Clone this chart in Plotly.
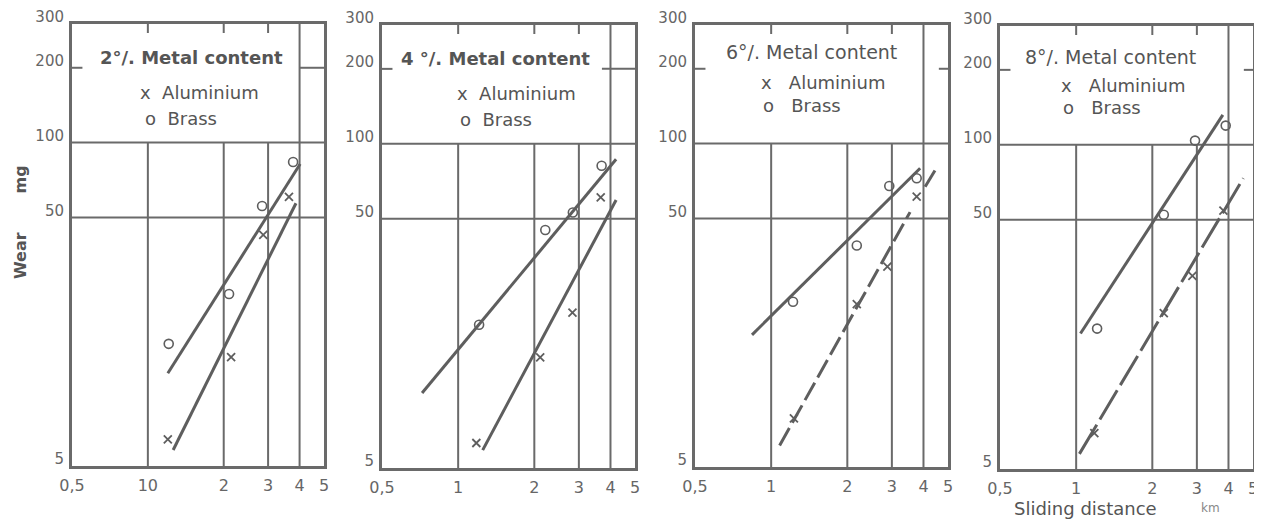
import plotly.graph_objects as go
import math

# ---------------- data ----------------
panel_titles = ["2°/. Metal content", "4 °/. Metal content", "6°/. Metal content", "8°/. Metal content"]
x_tick_vals = [0.5, 1, 2, 3, 4, 5]
x_tick_text_first = ["0,5", "10", "2", "3", "4", "5"]
x_tick_text = ["0,5", "1", "2", "3", "4", "5"]
y_tick_vals = [5, 50, 100, 200, 300]
y_tick_text = ["5", "50", "100", "200", "300"]

# Panel 1 (2 %)
p1_brass_x = [1.21, 2.10, 2.84, 3.77]
p1_brass_y = [15.5, 24.6, 55.6, 83.6]
p1_al_x = [1.20, 2.14, 2.87, 3.63]
p1_al_y = [6.4, 13.7, 42.5, 60.5]
p1_brass_fit_x = [1.20, 4.02]
p1_brass_fit_y = [11.8, 82.0]
p1_al_fit_x = [1.26, 3.87]
p1_al_fit_y = [5.8, 57.0]

# Panel 2 (4 %)
p2_brass_x = [1.21, 2.21, 2.84, 3.69]
p2_brass_y = [18.8, 45.1, 53.0, 81.7]
p2_al_x = [1.18, 2.11, 2.83, 3.66]
p2_al_y = [6.3, 13.9, 21.0, 61.0]
p2_brass_fit_x = [0.72, 4.21]
p2_brass_fit_y = [10.0, 86.7]
p2_al_fit_x = [1.25, 4.21]
p2_al_fit_y = [5.9, 59.5]

# Panel 3 (6 %)
p3_brass_x = [1.22, 2.18, 2.93, 3.76]
p3_brass_y = [23.1, 38.9, 67.5, 72.5]
p3_al_x = [1.23, 2.18, 2.88, 3.76]
p3_al_y = [7.85, 22.6, 32.0, 61.2]
p3_brass_fit_x = [0.84, 3.88]
p3_brass_fit_y = [17.0, 79.6]
p3_al_fit_x = [1.08, 3.54]
p3_al_fit_y = [6.1, 53.0]
p3_al_fit2_x = [4.06, 4.44]
p3_al_fit2_y = [67.0, 78.0]

# Panel 4 (8 %)
p4_brass_x = [1.21, 2.22, 2.95, 3.90]
p4_brass_y = [18.3, 52.4, 104.0, 119.5]
p4_al_x = [1.18, 2.22, 2.88, 3.82]
p4_al_y = [6.96, 21.1, 29.8, 54.5]
p4_brass_fit_x = [1.04, 3.80]
p4_brass_fit_y = [17.5, 132.0]
p4_al_fit_x = [1.03, 4.58]
p4_al_fit_y = [5.75, 73.5]

# ---------------- styling ----------------
OFF = 8                      # page body margin in the browser
W, H = 1262 - OFF, 529 - OFF
INK = "#5e5e5e"
GRID = "#6a6a6a"
TXT = "#555555"
FONT = "DejaVu Sans"

# pixel boxes of the panels in the screenshot (left, right, top, bottom)
boxes = [(72, 324, 24, 466), (382, 635, 25, 468), (695, 948, 25, 467), (1000, 1253, 26, 469)]


def px(xp):
    return (xp - OFF) / W


def py(yp):
    return 1 - (yp - OFF) / H


fig = go.Figure()

panels = [
    (p1_brass_x, p1_brass_y, p1_al_x, p1_al_y, p1_brass_fit_x, p1_brass_fit_y, p1_al_fit_x, p1_al_fit_y, None, None, "solid"),
    (p2_brass_x, p2_brass_y, p2_al_x, p2_al_y, p2_brass_fit_x, p2_brass_fit_y, p2_al_fit_x, p2_al_fit_y, None, None, "solid"),
    (p3_brass_x, p3_brass_y, p3_al_x, p3_al_y, p3_brass_fit_x, p3_brass_fit_y, p3_al_fit_x, p3_al_fit_y, p3_al_fit2_x, p3_al_fit2_y, "20px,6px"),
    (p4_brass_x, p4_brass_y, p4_al_x, p4_al_y, p4_brass_fit_x, p4_brass_fit_y, p4_al_fit_x, p4_al_fit_y, None, None, "34px,6px"),
]

legend_pos = [
    # title x, title y, al x, al y, brass x, brass y, bold
    (0.476, 0.925, 0.262, 0.846, 0.282, 0.787, True),
    (0.449, 0.925, 0.289, 0.846, 0.300, 0.786, True),
    (0.459, 0.939, 0.253, 0.869, 0.261, 0.819, False),
    (0.435, 0.930, 0.233, 0.865, 0.241, 0.817, False),
]
right200 = [4.0, 3.7, 4.6, 4.6]

annotations = []
shapes = []
for i, (bx, by, ax_, ay, bfx, bfy, afx, afy, a2x, a2y, adash) in enumerate(panels):
    n = i + 1
    xr = "x" if n == 1 else f"x{n}"
    yr = "y" if n == 1 else f"y{n}"
    # fit lines
    fig.add_trace(go.Scatter(x=bfx, y=bfy, mode="lines", line=dict(color=INK, width=3),
                             xaxis=xr, yaxis=yr, showlegend=False, hoverinfo="skip"))
    fig.add_trace(go.Scatter(x=afx, y=afy, mode="lines", line=dict(color=INK, width=3, dash=adash),
                             xaxis=xr, yaxis=yr, showlegend=False, hoverinfo="skip"))
    if a2x is not None:
        fig.add_trace(go.Scatter(x=a2x, y=a2y, mode="lines", line=dict(color=INK, width=3),
                                 xaxis=xr, yaxis=yr, showlegend=False, hoverinfo="skip"))
    # points
    fig.add_trace(go.Scatter(x=bx, y=by, mode="markers", name="Brass",
                             marker=dict(symbol="circle-open", size=9, color=INK, line=dict(width=1.6, color=INK)),
                             xaxis=xr, yaxis=yr, showlegend=False))
    fig.add_trace(go.Scatter(x=ax_, y=ay, mode="markers", name="Aluminium",
                             marker=dict(symbol="x-thin", size=8, color=INK, line=dict(width=1.8, color=INK)),
                             xaxis=xr, yaxis=yr, showlegend=False))

    l, r, t, b = boxes[i]
    fig.update_layout(**{
        ("xaxis" if n == 1 else f"xaxis{n}"): dict(
            type="log", range=[math.log10(0.5), math.log10(5)], domain=[px(l), px(r)],
            anchor=yr, tickvals=x_tick_vals, automargin=False,
            ticktext=x_tick_text_first if n == 1 else x_tick_text,
            showgrid=False, zeroline=False, showline=True, mirror=True,
            linewidth=3, linecolor=GRID, ticks="", ticklabelstandoff=3,
            tickfont=dict(family=FONT, size=16, color="#666666")),
        ("yaxis" if n == 1 else f"yaxis{n}"): dict(
            type="log", range=[math.log10(5), math.log10(300)], domain=[py(b), py(t)],
            anchor=xr, tickvals=y_tick_vals, ticktext=y_tick_text, automargin=False,
            showgrid=False, zeroline=False, showline=True, mirror=True,
            linewidth=3, linecolor=GRID, ticks="", ticklabelshift=-7, ticklabelstandoff=2,
            tickfont=dict(family=FONT, size=15, color="#666666")),
    })

    line_style = dict(color=GRID, width=2)
    for xv in [1, 2, 3]:
        shapes.append(dict(type="line", xref=xr, yref=yr, x0=xv, x1=xv, y0=5, y1=100, line=line_style, layer="below"))
        shapes.append(dict(type="line", xref=xr, yref=yr, x0=xv, x1=xv, y0=276, y1=300, line=line_style, layer="below"))
    shapes.append(dict(type="line", xref=xr, yref=yr, x0=4, x1=4, y0=5, y1=300, line=line_style, layer="below"))
    for yv in [50, 100]:
        shapes.append(dict(type="line", xref=xr, yref=yr, x0=0.5, x1=5, y0=yv, y1=yv, line=line_style, layer="below"))
    shapes.append(dict(type="line", xref=xr, yref=yr, x0=0.5, x1=0.55, y0=200, y1=200, line=line_style, layer="below"))
    shapes.append(dict(type="line", xref=xr, yref=yr, x0=right200[i], x1=5, y0=200, y1=200, line=line_style, layer="below"))

    tx, ty, alx, aly, brx, bry, bold = legend_pos[i]
    xd = f"{xr} domain"
    yd = f"{yr} domain"
    title_txt = f"<b>{panel_titles[i]}</b>" if bold else panel_titles[i]
    annotations.append(dict(xref=xd, yref=yd, x=tx, y=ty, text=title_txt, showarrow=False,
                            xanchor="center", yanchor="middle",
                            font=dict(family=FONT, size=18 if bold else 19, color=TXT)))
    gap = "  " if i < 2 else "   "
    annotations.append(dict(xref=xd, yref=yd, x=alx, y=aly, text=f"x{gap}Aluminium", showarrow=False,
                            xanchor="left", yanchor="middle",
                            font=dict(family=FONT, size=18, color=TXT)))
    annotations.append(dict(xref=xd, yref=yd, x=brx, y=bry, text=f"o{gap}Brass", showarrow=False,
                            xanchor="left", yanchor="middle",
                            font=dict(family=FONT, size=18, color=TXT)))

# axis titles
annotations.append(dict(xref="paper", yref="paper", x=px(20), y=py(222), text="<b>Wear       mg</b>",
                        textangle=-90, showarrow=False, xanchor="center", yanchor="middle",
                        font=dict(family=FONT, size=16, color=TXT)))
annotations.append(dict(xref="paper", yref="paper", x=px(1085), y=py(508), text="Sliding distance",
                        showarrow=False, xanchor="center", yanchor="middle",
                        font=dict(family=FONT, size=18, color=TXT)))
annotations.append(dict(xref="paper", yref="paper", x=px(1210), y=py(508), text="km",
                        showarrow=False, xanchor="center", yanchor="middle",
                        font=dict(family=FONT, size=12, color="#888888")))

fig.update_layout(width=W, height=H, margin=dict(l=0, r=0, t=0, b=0, autoexpand=False),
                  paper_bgcolor="white", plot_bgcolor="white",
                  shapes=shapes, annotations=annotations, showlegend=False)

fig.write_html("out.html")
